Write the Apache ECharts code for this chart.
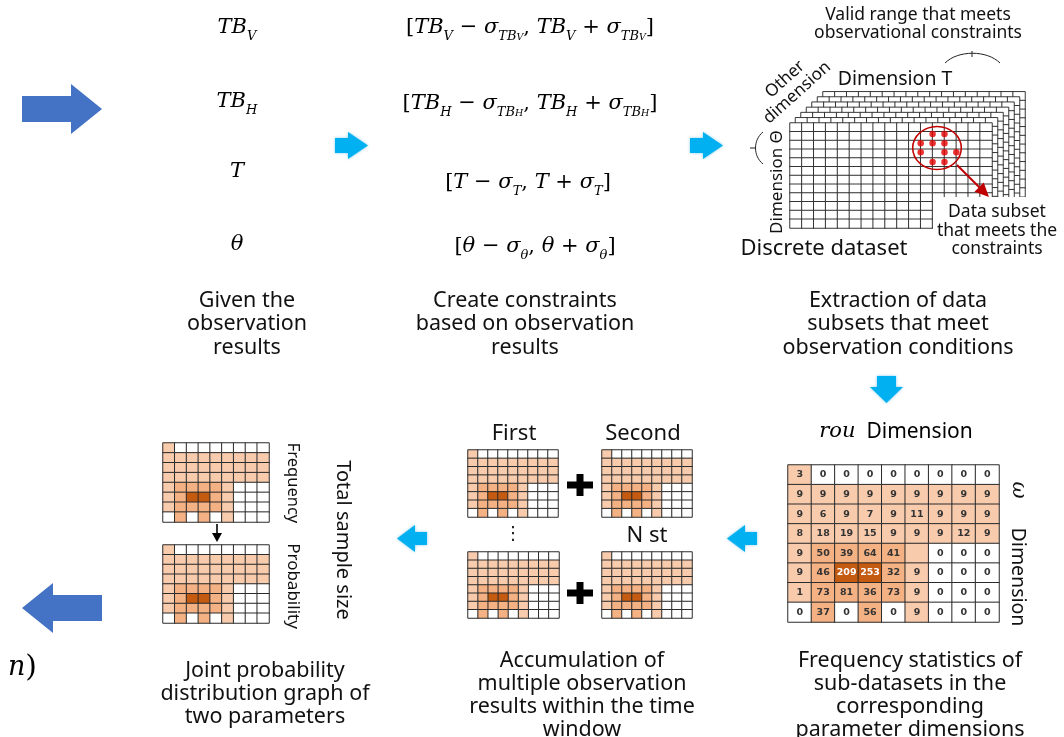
<!DOCTYPE html>
<html>
<head>
<meta charset="utf-8">
<title>Joint probability workflow</title>
<script src="https://cdn.jsdelivr.net/npm/echarts@6/dist/echarts.min.js"></script>
<style>
  html, body { margin: 0; padding: 0; background: #fff; }
  #main { width: 1064px; height: 737px; }
</style>
</head>
<body>
<div id="main"></div>
<script>
// rou dimension = columns, omega dimension = rows
const rouBins = ['1', '2', '3', '4', '5', '6', '7', '8', '9'];
const omegaBins = ['1', '2', '3', '4', '5', '6', '7', '8'];
const freqRows = [
  [3, 0, 0, 0, 0, 0, 0, 0, 0],
  [9, 9, 9, 9, 9, 9, 9, 9, 9],
  [9, 6, 9, 7, 9, 11, 9, 9, 9],
  [8, 18, 19, 15, 9, 9, 9, 12, 9],
  [9, 50, 39, 64, 41, 9, 0, 0, 0],
  [9, 46, 209, 253, 32, 9, 0, 0, 0],
  [1, 73, 81, 36, 73, 9, 0, 0, 0],
  [0, 37, 0, 56, 0, 9, 0, 0, 0]
];
const hiddenCells = ['4-5']; // coloured but no number printed

// discrete dataset sketch
const datasetCols = 17;
const datasetRows = 12;
const datasetLayers = 7;
// points of the subset that meets the constraints (front layer, grid units)
const subsetT = [12, 13, 11, 12, 13, 11, 13, 14, 12, 13];
const subsetTheta = [1.25, 1.25, 2.3, 2.3, 2.3, 3.35, 3.35, 3.35, 4.45, 4.45];

const SANS = 'Noto Sans';
const SERIF = 'DejaVu Serif';
const CYAN = '#00B0F0';
const BLUE = '#4472C4';

function shade(v) {
  if (v >= 200) return '#C55A11';
  if (v >= 30) return '#F4B183';
  if (v > 0) return '#F8CBAD';
  return '#FFFFFF';
}

const grids = [], xAxes = [], yAxes = [], series = [];

function addGrid(left, top, width, height, xa, ya) {
  const i = grids.length;
  grids.push({ left: left, top: top, width: width, height: height, show: false });
  xAxes.push(Object.assign({ gridIndex: i, show: false }, xa));
  yAxes.push(Object.assign({ gridIndex: i, show: false }, ya));
  return i;
}

function freqHeatmap(left, top, width, height, withLabels) {
  const i = addGrid(left, top, width, height,
    { type: 'category', data: rouBins },
    { type: 'category', data: omegaBins, inverse: true });
  const data = [];
  freqRows.forEach(function (row, r) {
    row.forEach(function (v, c) {
      const item = { value: [c, r, v], itemStyle: { color: shade(v) } };
      if (withLabels) {
        item.label = { show: hiddenCells.indexOf(r + '-' + c) < 0, color: v >= 200 ? '#fff' : '#333' };
      }
      data.push(item);
    });
  });
  series.push({
    type: 'heatmap', xAxisIndex: i, yAxisIndex: i, data: data,
    itemStyle: { borderColor: '#2b2b2b', borderWidth: 1 },
    label: { show: withLabels, fontSize: 9.5, fontWeight: 'bold', fontFamily: 'DejaVu Sans',
      formatter: function (p) { return p.value[2]; } },
    emphasis: { disabled: true }, silent: true, z: 2
  });
}

// main frequency table + small copies
freqHeatmap(788, 465, 211, 157, true);
freqHeatmap(163, 443, 106, 79, false);
freqHeatmap(163, 545, 106, 78, false);
freqHeatmap(468, 450, 90, 67, false);
freqHeatmap(602, 450, 90, 67, false);
freqHeatmap(468, 552, 91, 66, false);
freqHeatmap(602, 552, 90, 66, false);

// stacked layers of the discrete dataset (back to front)
const colIdx = [], rowIdx = [];
for (let c = 0; c < datasetCols; c++) colIdx.push(String(c));
for (let r = 0; r < datasetRows; r++) rowIdx.push(String(r));
for (let k = datasetLayers - 1; k >= 0; k--) {
  const i = addGrid(790 + k * 5.5, 123 - k * 5.2, 202, 105,
    { type: 'category', data: colIdx },
    { type: 'category', data: rowIdx, inverse: true });
  const cells = [];
  for (let c = 0; c < datasetCols; c++) {
    for (let r = 0; r < datasetRows; r++) cells.push({ value: [c, r, 0], itemStyle: { color: '#fff' } });
  }
  series.push({
    type: 'heatmap', xAxisIndex: i, yAxisIndex: i, data: cells,
    itemStyle: { borderColor: '#222', borderWidth: 0.9 },
    emphasis: { disabled: true }, silent: true, z: 3 + (datasetLayers - k)
  });
}

// red points of the subset
const sg = addGrid(790, 123, 202, 105,
  { type: 'value', min: 0, max: datasetCols },
  { type: 'value', min: 0, max: datasetRows, inverse: true });
series.push({
  type: 'scatter', xAxisIndex: sg, yAxisIndex: sg, symbolSize: 6.5,
  itemStyle: { color: '#E60000' }, silent: true, z: 20,
  data: subsetT.map(function (t, j) { return [t, subsetTheta[j]]; })
});

// ---------- decorations ----------
function arrowRight(x0, x1, yc, headLen, headH, shaftH) {
  const xh = x1 - headLen;
  return [[x0, yc - shaftH / 2], [xh, yc - shaftH / 2], [xh, yc - headH / 2], [x1, yc],
    [xh, yc + headH / 2], [xh, yc + shaftH / 2], [x0, yc + shaftH / 2]];
}
function arrowLeft(x0, x1, yc, headLen, headH, shaftH) {
  const xh = x0 + headLen;
  return [[x1, yc - shaftH / 2], [xh, yc - shaftH / 2], [xh, yc - headH / 2], [x0, yc],
    [xh, yc + headH / 2], [xh, yc + shaftH / 2], [x1, yc + shaftH / 2]];
}
function arrowDown(xc, y0, y1, headLen, headW, shaftW) {
  const yh = y1 - headLen;
  return [[xc - shaftW / 2, y0], [xc - shaftW / 2, yh], [xc - headW / 2, yh], [xc, y1],
    [xc + headW / 2, yh], [xc + shaftW / 2, yh], [xc + shaftW / 2, y0]];
}
function poly(points, fill, z) {
  return { type: 'polygon', z: z || 50, shape: { points: points },
    style: { fill: fill, shadowBlur: fill === CYAN ? 3 : 0, shadowColor: 'rgba(0,150,220,0.5)' } };
}
function txt(x, y, text, size, extra) {
  const el = { type: 'text', x: x, y: y, z: 60,
    style: Object.assign({ text: text, fontFamily: SANS, fontSize: size, fill: '#111',
      align: 'center', verticalAlign: 'middle', lineHeight: Math.round(size * 1.22) }, extra || {}) };
  return el;
}
function rotTxt(x, y, text, size, rot, extra) {
  const el = txt(x, y, text, size, extra);
  el.rotation = rot;
  return el;
}

const mathRich = {
  m: { fontFamily: SERIF, fontStyle: 'italic', fontSize: 21, lineHeight: 30, verticalAlign: 'middle', color: '#222' },
  r: { fontFamily: SERIF, fontSize: 21, lineHeight: 30, verticalAlign: 'middle', color: '#222' },
  s: { fontFamily: SERIF, fontStyle: 'italic', fontSize: 13, lineHeight: 16, verticalAlign: 'bottom', color: '#222' },
  ss: { fontFamily: SERIF, fontStyle: 'italic', fontSize: 9.5, lineHeight: 10, verticalAlign: 'bottom', color: '#222' },
  big: { fontFamily: SERIF, fontStyle: 'italic', fontSize: 27, lineHeight: 34, verticalAlign: 'middle', color: '#222' },
  bigr: { fontFamily: SERIF, fontSize: 30, lineHeight: 34, verticalAlign: 'middle', color: '#222' },
  n: { fontFamily: SANS, fontSize: 21, lineHeight: 30, verticalAlign: 'middle', color: '#111' }
};
function mathTxt(x, y, text, align) {
  return { type: 'text', x: x, y: y, z: 60,
    style: { text: text, rich: mathRich, align: align || 'center', verticalAlign: 'middle' } };
}

function arrowHead(x1, y1, x2, y2, len, halfW) {
  const d = Math.hypot(x2 - x1, y2 - y1), ux = (x2 - x1) / d, uy = (y2 - y1) / d;
  const bx = x2 - ux * len, by = y2 - uy * len;
  return [[x2, y2], [bx - uy * halfW, by + ux * halfW], [bx + uy * halfW, by - ux * halfW]];
}

const elements = [
  // big blue arrows
  poly(arrowRight(22, 102, 109, 31, 50, 26), BLUE),
  poly(arrowLeft(22, 102, 608, 31, 50, 26), BLUE),
  // cyan flow arrows
  poly(arrowRight(335, 368, 145.5, 20, 27, 15), CYAN),
  poly(arrowRight(690, 723, 145.5, 20, 27, 15), CYAN),
  poly(arrowDown(886.5, 376, 403, 16, 33, 19), CYAN),
  poly(arrowLeft(397, 427, 538.5, 18, 27, 13), CYAN),
  poly(arrowLeft(727, 757, 538.5, 18, 27, 13), CYAN),
  // plus signs
  { type: 'rect', z: 50, shape: { x: 567, y: 481.5, width: 26, height: 7 }, style: { fill: '#000' } },
  { type: 'rect', z: 50, shape: { x: 576.5, y: 474, width: 7, height: 22 }, style: { fill: '#000' } },
  { type: 'rect', z: 50, shape: { x: 567, y: 589.5, width: 26, height: 7 }, style: { fill: '#000' } },
  { type: 'rect', z: 50, shape: { x: 576.5, y: 582, width: 7, height: 22 }, style: { fill: '#000' } },
  // frequency -> probability arrow
  { type: 'line', z: 50, shape: { x1: 217, y1: 524, x2: 217, y2: 534 }, style: { stroke: '#000', lineWidth: 1.6 } },
  { type: 'polygon', z: 50, shape: { points: [[212, 533], [222, 533], [217, 542]] }, style: { fill: '#000' } },
  // white area behind the "Data subset" caption (hides the lower right of the layers)
  { type: 'rect', z: 30, shape: { x: 933, y: 197, width: 131, height: 70 }, style: { fill: '#fff' } },
  // subset ellipse + arrow
  { type: 'circle', z: 40, x: 937, y: 148, scaleX: 1.13, shape: { cx: 0, cy: 0, r: 21.5 },
    style: { fill: null, stroke: '#C00000', lineWidth: 1.4 } },
  { type: 'line', z: 40, shape: { x1: 957, y1: 165, x2: 980, y2: 188 }, style: { stroke: '#C00000', lineWidth: 2 } },
  { type: 'polygon', z: 40, shape: { points: arrowHead(957, 165, 989, 197, 14, 6.5) }, style: { fill: '#C00000' } },
  // braces
  { type: 'bezierCurve', z: 40, shape: { x1: 945, y1: 63, cpx1: 958, cpy1: 50, cpx2: 987, cpy2: 50, x2: 1000, y2: 63 },
    style: { stroke: '#222', lineWidth: 1, fill: null } },
  { type: 'line', z: 40, shape: { x1: 972, y1: 51, x2: 972, y2: 57 }, style: { stroke: '#222', lineWidth: 1 } },
  { type: 'bezierCurve', z: 40, shape: { x1: 763, y1: 132, cpx1: 753, cpy1: 140, cpx2: 753, cpy2: 156, x2: 763, y2: 164 },
    style: { stroke: '#222', lineWidth: 1, fill: null } },
  { type: 'line', z: 40, shape: { x1: 750, y1: 148, x2: 756, y2: 148 }, style: { stroke: '#222', lineWidth: 1 } },

  // observation symbols
  mathTxt(237, 28, '{m|TB}{s|V}'),
  mathTxt(237, 102, '{m|TB}{s|H}'),
  mathTxt(237, 172, '{m|T}'),
  mathTxt(237, 245, '{m|θ}'),
  // constraints
  mathTxt(530, 28, '{r|[}{m|TB}{s|V}{r| − }{m|σ}{s|TB}{ss|V}{r|, }{m|TB}{s|V}{r| + }{m|σ}{s|TB}{ss|V}{r|]}'),
  mathTxt(530, 104, '{r|[}{m|TB}{s|H}{r| − }{m|σ}{s|TB}{ss|H}{r|, }{m|TB}{s|H}{r| + }{m|σ}{s|TB}{ss|H}{r|]}'),
  mathTxt(528, 183, '{r|[}{m|T}{r| − }{m|σ}{s|T}{r|, }{m|T}{r| + }{m|σ}{s|T}{r|]}'),
  mathTxt(535, 247, '{r|[}{m|θ}{r| − }{m|σ}{s|θ}{r|, }{m|θ}{r| + }{m|σ}{s|θ}{r|]}'),
  mathTxt(37, 668, '{big|n}{bigr|)}', 'right'),

  // step captions (top row)
  txt(247, 324, 'Given the\nobservation\nresults', 21.5, { lineHeight: 23.5 }),
  txt(525, 324, 'Create constraints\nbased on observation\nresults', 21.5, { lineHeight: 23.5 }),
  txt(898, 324, 'Extraction of data\nsubsets that meet\nobservation conditions', 21.5, { lineHeight: 23.5 }),
  // step captions (bottom row)
  txt(265, 694, 'Joint probability\ndistribution graph of\ntwo parameters', 21.5, { lineHeight: 23 }),
  txt(582, 695, 'Accumulation of\nmultiple observation\nresults within the time\nwindow', 21.5, { lineHeight: 23 }),
  txt(910, 695, 'Frequency statistics of\nsub-datasets in the\ncorresponding\nparameter dimensions', 21.5, { lineHeight: 23 }),

  // discrete dataset labels
  txt(918, 24, 'Valid range that meets\nobservational constraints', 17.5, { lineHeight: 18.5 }),
  txt(895, 79, 'Dimension T', 19.5),
  rotTxt(791, 86, 'Other\ndimension', 17, 0.73, { lineHeight: 18 }),
  rotTxt(777, 182, 'Dimension Θ', 17, Math.PI / 2),
  txt(824, 249, 'Discrete dataset', 22),
  txt(997, 231, 'Data subset\nthat meets the\nconstraints', 17.5, { lineHeight: 18.5 }),

  // frequency table labels
  mathTxt(896, 432, '{m|rou}{n|  Dimension}'),
  rotTxt(1018, 490, 'ω', 21, -Math.PI / 2, { fontFamily: SERIF, fontStyle: 'italic' }),
  rotTxt(1018, 577, 'Dimension', 19.5, -Math.PI / 2),

  // accumulation labels
  txt(514, 434, 'First', 22),
  txt(643, 434, 'Second', 22),
  txt(647, 536, 'N st', 22),
  txt(513, 534, '⋮', 18, { fontFamily: 'DejaVu Sans' }),

  // probability graph labels
  rotTxt(293, 483, 'Frequency', 16.5, -Math.PI / 2),
  rotTxt(293, 586, 'Probability', 17, -Math.PI / 2),
  rotTxt(343, 540, 'Total sample size', 20, -Math.PI / 2)
];

const chart = echarts.init(document.getElementById('main'));
chart.setOption({
  backgroundColor: '#fff',
  animation: false,
  grid: grids,
  xAxis: xAxes,
  yAxis: yAxes,
  series: series,
  graphic: { elements: elements }
});
</script>
</body>
</html>
